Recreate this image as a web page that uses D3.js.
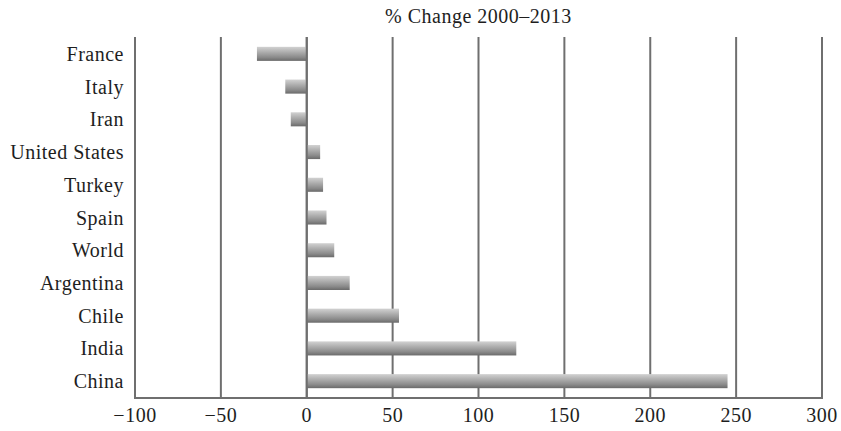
<!DOCTYPE html>
<html>
<head>
<meta charset="utf-8">
<script src="https://cdn.jsdelivr.net/npm/d3@7"></script>
<style>
  html, body { margin: 0; padding: 0; background: #fff; }
  svg text { font-family: "Liberation Serif", "Times New Roman", serif; fill: #1e1e1e; }
</style>
</head>
<body>
<svg id="chart" width="841" height="431"></svg>
<script>
// Percentage change in production, 2000–2013
const countries = ["France", "Italy", "Iran", "United States", "Turkey", "Spain",
                   "World", "Argentina", "Chile", "India", "China"];
const pctChange = [-29, -12.5, -9.3, 7.8, 9.5, 11.5, 16, 25, 53.7, 122, 245];
const xTicks = [-100, -50, 0, 50, 100, 150, 200, 250, 300];
const xTickLabels = ["\u2212100", "\u221250", "0", "50", "100", "150", "200", "250", "300"];
const title = "% Change 2000\u20132013";

const svg = d3.select("#chart");
const margin = { top: 37, right: 19, bottom: 33, left: 135 };
const W = 841, H = 431;
const x0 = margin.left, x1 = W - margin.right;
const y0 = margin.top, y1 = H - margin.bottom;

const x = d3.scaleLinear().domain([-100, 300]).range([x0, x1]);
const y = d3.scaleBand().domain(countries).range([y0, y1]).paddingInner(0.57).paddingOuter(0.3);

// vertical shading for the bars
const defs = svg.append("defs");
const grad = defs.append("linearGradient")
  .attr("id", "barShade").attr("x1", 0).attr("y1", 0).attr("x2", 0).attr("y2", 1);
grad.append("stop").attr("offset", "0%").attr("stop-color", "#d2d2d2");
grad.append("stop").attr("offset", "35%").attr("stop-color", "#b0b0b0");
grad.append("stop").attr("offset", "75%").attr("stop-color", "#8a8a8a");
grad.append("stop").attr("offset", "100%").attr("stop-color", "#6a6a6a");

// vertical gridlines
svg.append("g").selectAll("line").data(xTicks).join("line")
  .attr("x1", d => x(d)).attr("x2", d => x(d))
  .attr("y1", y0).attr("y2", y1)
  .attr("stroke", "#6f6f6f").attr("stroke-width", 2);

// bars
svg.append("g").selectAll("rect").data(countries).join("rect")
  .attr("x", (d, i) => x(Math.min(0, pctChange[i])))
  .attr("y", d => y(d))
  .attr("width", (d, i) => Math.abs(x(pctChange[i]) - x(0)))
  .attr("height", y.bandwidth())
  .attr("fill", "url(#barShade)");

// zero line drawn over bars
svg.append("line")
  .attr("x1", x(0)).attr("x2", x(0)).attr("y1", y0).attr("y2", y1)
  .attr("stroke", "#6f6f6f").attr("stroke-width", 2);

// bottom axis line
svg.append("line")
  .attr("x1", x0 - 1).attr("x2", x1 + 1).attr("y1", y1).attr("y2", y1)
  .attr("stroke", "#6f6f6f").attr("stroke-width", 2);

// category labels
svg.append("g").selectAll("text").data(countries).join("text")
  .attr("x", x0 - 11)
  .attr("y", d => y(d) + y.bandwidth() / 2 + 7)
  .attr("text-anchor", "end")
  .attr("font-size", 20)
  .attr("letter-spacing", "0.5px")
  .text(d => d);

// x tick labels
svg.append("g").selectAll("text").data(xTicks).join("text")
  .attr("x", d => x(d))
  .attr("y", y1 + 24)
  .attr("text-anchor", "middle")
  .attr("font-size", 20)
  .attr("letter-spacing", "0.5px")
  .text((d, i) => xTickLabels[i]);

// title
svg.append("text")
  .attr("x", (x0 + x1) / 2)
  .attr("y", 23)
  .attr("text-anchor", "middle")
  .attr("font-size", 20)
  .attr("letter-spacing", "0.5px")
  .text(title);
</script>
</body>
</html>
